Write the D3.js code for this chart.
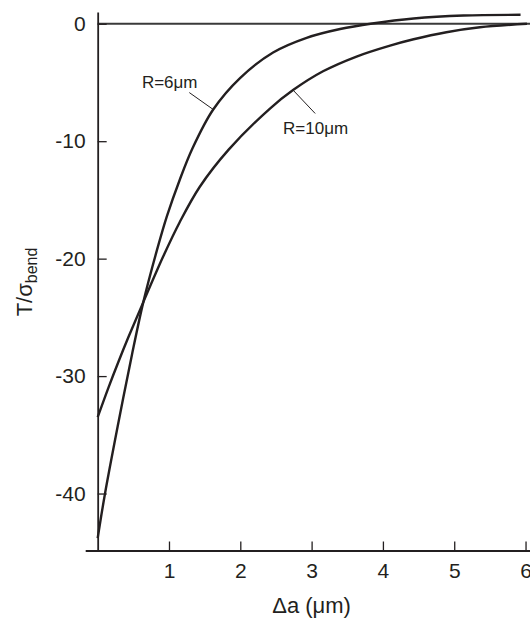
<!DOCTYPE html>
<html>
<head>
<meta charset="utf-8">
<script src="https://cdn.jsdelivr.net/npm/d3@7"></script>
<style>
  body { margin: 0; background: #fff; }
  text { font-family: "Liberation Sans", Arial, sans-serif; fill: #231f20; }
</style>
</head>
<body>
<div class="chart"></div>
<script>
// curve readings, delta a in um vs T/sigma_bend
const r6_x = [0, 0.1, 0.28, 0.48, 0.64, 0.83, 0.97, 1.15, 1.33, 1.62, 2.0, 2.46, 2.93, 3.4, 3.85, 4.43, 5.13, 5.93]
const r6_y = [-43.8, -40.1, -34.3, -28.2, -23.7, -19.3, -16.4, -13.3, -10.6, -7.3, -4.6, -2.45, -1.2, -0.45, 0.02, 0.45, 0.7, 0.76]
const r10_x = [0, 0.15, 0.29, 0.43, 0.64, 0.92, 1.15, 1.43, 1.84, 2.42, 2.74, 3.16, 3.63, 4.1, 4.43, 4.89, 5.36, 6.02]
const r10_y = [-33.5, -31.0, -28.8, -26.7, -23.7, -19.8, -16.9, -13.9, -10.7, -7.2, -5.65, -4.05, -2.79, -1.86, -1.32, -0.72, -0.3, 0]

const x_ticks = [1, 2, 3, 4, 5, 6]
const y_ticks = [0, -10, -20, -30, -40]

// label text, anchor position and leader line (data units)
const labels = [
    { text: "R=6\u03bcm", x: 0.62, y: -5.43, lx1: 1.285, ly1: -5.86, lx2: 1.62, ly2: -7.3 },
    { text: "R=10\u03bcm", x: 2.6, y: -9.4, lx1: 2.74, ly1: -5.65, lx2: 3.05, ly2: -7.64 }
]

const width = 530;
const height = 619;
const ink = "#231f20";

const svg = d3.select(".chart").append("svg").attr("width", width).attr("height", height)

const x_scale = d3.scaleLinear().domain([-0.175, 6.2]).range([85.2, 539.8]);
const y_scale = d3.scaleLinear().domain([-44.85, 1]).range([550.5, 12]);

// zero line
svg.append("line")
    .attr("x1", x_scale(0)).attr("x2", width)
    .attr("y1", y_scale(0)).attr("y2", y_scale(0))
    .attr("stroke", "#3a3a3a").attr("stroke-width", 1.8);

const y_axis = svg.append("g").attr("transform", 'translate(' + x_scale(0) + ',0)')
    .call(d3.axisLeft(y_scale).tickValues(y_ticks).tickSize(-9).tickSizeOuter(0).tickPadding(12).tickFormat(d => String(d)));

const x_axis = svg.append("g").attr("transform", 'translate(0,' + y_scale(-44.85) + ')')
    .call(d3.axisBottom(x_scale).tickValues(x_ticks).tickSize(-9).tickSizeOuter(0).tickPadding(13).tickFormat(d => String(d)));

[x_axis, y_axis].forEach(g => {
    g.select(".domain").attr("stroke", ink).attr("stroke-width", 1.8);
    g.selectAll(".tick line").attr("stroke", ink).attr("stroke-width", 1.3);
    g.selectAll(".tick text").attr("fill", ink).style("font-size", "21px")
        .style("font-family", '"Liberation Sans", Arial, sans-serif');
});

const line = d3.line()
    .x(d => x_scale(d[0]))
    .y(d => y_scale(d[1]))
    .curve(d3.curveCatmullRom.alpha(0.5));

const series = [d3.zip(r6_x, r6_y), d3.zip(r10_x, r10_y)];

svg.selectAll("path.curve")
    .data(series)
    .join("path")
    .attr("class", "curve")
    .attr("d", line)
    .attr("fill", "none")
    .attr("stroke", ink)
    .attr("stroke-width", 2.4);

// curve labels with leader lines
svg.selectAll("line.leader")
    .data(labels)
    .join("line")
    .attr("class", "leader")
    .attr("x1", d => x_scale(d.lx1)).attr("y1", d => y_scale(d.ly1))
    .attr("x2", d => x_scale(d.lx2)).attr("y2", d => y_scale(d.ly2))
    .attr("stroke", ink).attr("stroke-width", 1);

svg.selectAll("text.lab")
    .data(labels)
    .join("text")
    .attr("class", "lab")
    .attr("x", d => x_scale(d.x))
    .attr("y", d => y_scale(d.y))
    .style("font-size", "17px")
    .text(d => d.text);

// axis titles
svg.append("text")
    .attr("x", x_scale(3))
    .attr("y", 613)
    .attr("text-anchor", "middle")
    .style("font-size", "22px")
    .text("\u0394a (\u03bcm)");

const y_title = svg.append("text")
    .attr("transform", 'translate(32,' + 282 + ') rotate(-90)')
    .attr("text-anchor", "middle")
    .style("font-size", "22px");
y_title.append("tspan").text("T/\u03c3");
y_title.append("tspan").attr("dy", 5).style("font-size", "16px").text("bend");
</script>
</body>
</html>
